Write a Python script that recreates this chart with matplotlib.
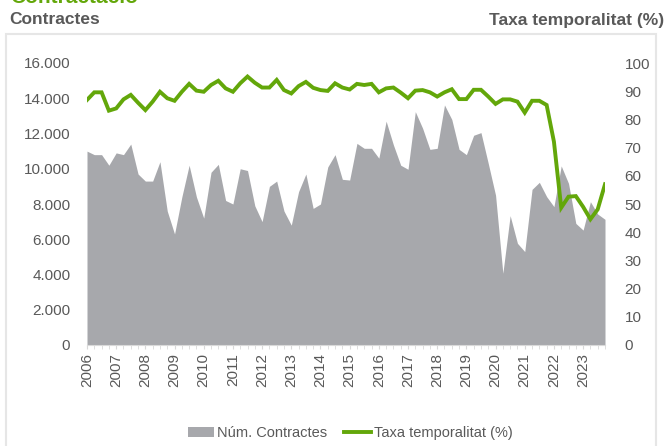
import matplotlib
matplotlib.use("Agg")
import matplotlib.pyplot as plt
from matplotlib.patches import Rectangle
import numpy as np

# dades trimestrals 2006T1 - 2023T4
anys = [str(a) for a in range(2006, 2024)]
contractes = [
    11.0, 10.8, 10.8, 10.2,   # 2006
    10.9, 10.8, 11.4, 9.7,    # 2007
    9.3, 9.3, 10.4, 7.6,      # 2008
    6.3, 8.4, 10.2, 8.4,      # 2009
    7.2, 9.8, 10.25, 8.2,     # 2010
    8.0, 10.0, 9.9, 7.9,      # 2011
    7.0, 9.0, 9.3, 7.6,       # 2012
    6.8, 8.7, 9.7, 7.75,      # 2013
    8.0, 10.1, 10.8, 9.4,     # 2014
    9.36, 11.44, 11.16, 11.16,  # 2015
    10.6, 12.7, 11.35, 10.2,  # 2016
    9.97, 13.24, 12.3, 11.1,  # 2017
    11.16, 13.62, 12.8, 11.1,  # 2018
    10.8, 11.9, 12.05, 10.3,  # 2019
    8.5, 4.07, 7.34, 5.77,    # 2020
    5.3, 8.83, 9.23, 8.42,    # 2021
    7.85, 10.16, 9.17, 6.9,   # 2022
    6.52, 8.13, 7.43, 7.13,   # 2023
]
contractes = [v * 1000 for v in contractes]
taxa = [
    86.9, 89.6, 89.6, 83.1,
    83.9, 87.1, 88.7, 85.9,
    83.3, 86.3, 89.8, 87.5,
    86.6, 89.8, 92.6, 90.2,
    89.8, 92.2, 93.7, 91.0,
    89.8, 92.8, 95.2, 93.0,
    91.3, 91.3, 94.0, 90.4,
    89.2, 91.8, 93.3, 91.2,
    90.4, 90.1, 92.8, 91.3,
    90.6, 92.6, 92.2, 92.6,
    89.6, 91.0, 91.3, 89.5,
    87.5, 90.2, 90.4, 89.6,
    88.1, 89.6, 90.7, 87.2,
    87.2, 90.5, 90.5, 88.1,
    85.5, 87.1, 87.1, 86.3,
    82.4, 86.6, 86.6, 85.1,
    72.1, 48.7, 52.6, 52.8,
    49.0, 44.6, 48.1, 57.0,
]

gris = '#A7A8AC'
verd = '#63A70A'
text_col = '#595959'
fonts = ['Liberation Sans', 'DejaVu Sans']
plt.rcParams['font.family'] = fonts

W, H = 668, 446
fig = plt.figure(figsize=(W / 100, H / 100), dpi=100)

# marc del panell
fig.patches.append(Rectangle((6 / W, -0.05), 650 / W, 1.05 - 34 / H,
                             transform=fig.transFigure, fill=False,
                             edgecolor='#E6E6E6', linewidth=1.5))

fig.text(10 / W, 1 - 3 / H, 'Contractació', color=verd, fontsize=15,
         fontweight='bold', va='baseline')
fig.text(9 / W, 1 - 20 / H, 'Contractes', color=text_col, fontsize=12.5,
         fontweight='bold', va='center')
fig.text(664 / W, 1 - 20 / H, 'Taxa temporalitat (%)', color=text_col, fontsize=12.5,
         fontweight='bold', va='center', ha='right')

ax = fig.add_axes([87 / W, (H - 345) / H, (605 - 87) / W, (345 - 63) / H])
x = np.arange(len(contractes))
ax.fill_between(x, 0, contractes, color=gris, linewidth=0, label='Núm. Contractes')
ax.set_xlim(0, len(contractes) - 1)
ax.set_ylim(0, 16000)
ax.set_yticks(range(0, 16001, 2000))
ax.set_yticklabels(['{:,}'.format(v).replace(',', '.') for v in range(0, 16001, 2000)])
ax.set_xticks(np.arange(0, len(contractes), 4))
ax.set_xticklabels(anys, rotation=90)
ax.set_xticks(x, minor=True)

ax2 = ax.twinx()
ax2.plot(x, taxa, color=verd, linewidth=2.8, solid_joinstyle='miter', label='Taxa temporalitat (%)')
ax2.set_ylim(0, 100)
ax2.set_yticks(range(0, 101, 10))

for a in (ax, ax2):
    for s in a.spines.values():
        s.set_visible(False)
    a.tick_params(axis='y', length=0, labelsize=11, labelcolor=text_col)
ax.tick_params(axis='y', pad=12)
ax2.tick_params(axis='y', pad=14)
ax.spines['bottom'].set_visible(True)
ax.spines['bottom'].set_color('#D9D9D9')
ax.tick_params(axis='x', which='both', length=3, color='#D9D9D9',
               labelsize=11, labelcolor=text_col, pad=3)

h1, l1 = ax.get_legend_handles_labels()
h2, l2 = ax2.get_legend_handles_labels()
fig.legend(h1 + h2, l1 + l2, loc='center', bbox_to_anchor=(350 / W, 1 - 433 / H),
           ncol=2, frameon=False, fontsize=10.5, labelcolor=text_col,
           handlelength=1.8, handletextpad=0.2, columnspacing=1.2)

fig.savefig('out.png', dpi=100)
